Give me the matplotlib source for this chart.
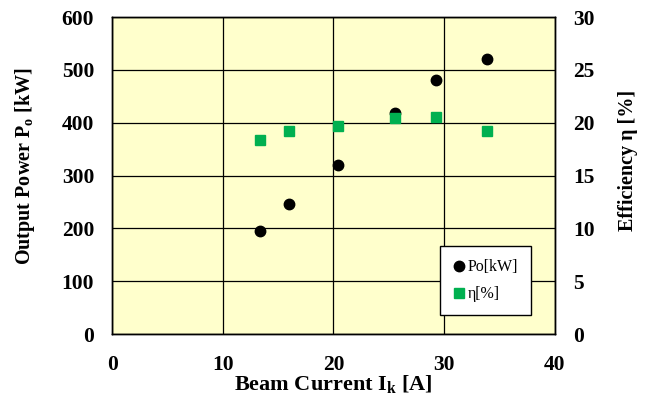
import matplotlib.pyplot as plt

plt.rcParams['font.family'] = 'Liberation Serif'
plt.rcParams['mathtext.fontset'] = 'custom'
plt.rcParams['mathtext.rm'] = 'Liberation Serif'
plt.rcParams['mathtext.bf'] = 'Liberation Serif:bold'

beam_current = [13.4, 16.0, 20.4, 25.6, 29.3, 33.9]
power_kw = [195, 246, 320, 418, 481, 521]
efficiency = [18.4, 19.2, 19.7, 20.4, 20.5, 19.2]


def main():
    fig = plt.figure(figsize=(6.45, 4.05), dpi=100)
    ax = fig.add_axes([0.174, 0.175, 0.686, 0.783])
    ax.set_facecolor('#FFFFCC')
    ax2 = ax.twinx()

    ax.plot(beam_current, power_kw, 'o', color='black', markersize=7.5,
            label='Po[kW]', zorder=3)
    ax2.plot(beam_current, efficiency, 's', color='#00B050', markersize=7.5,
             label='η[%]', zorder=3)

    ax.set_xlim(0, 40)
    ax.set_ylim(0, 600)
    ax2.set_ylim(0, 30)
    ax.set_xticks([0, 10, 20, 30, 40])
    ax.set_yticks(range(0, 601, 100))
    ax2.set_yticks(range(0, 31, 5))
    ax.grid(True, color='black', linewidth=0.9)
    ax.set_axisbelow(True)

    ax.tick_params(axis='x', length=0, labelsize=15.5, pad=15)
    ax.tick_params(axis='y', length=0, labelsize=15.5, pad=13)
    ax2.tick_params(axis='y', length=0, labelsize=15.5, pad=13)
    for a in (ax, ax2):
        for lab in a.get_xticklabels() + a.get_yticklabels():
            lab.set_fontweight('bold')
        for s in a.spines.values():
            s.set_linewidth(1.0)

    ax.set_xlabel(r'Beam Current I$_{\mathbf{k}}$ [A]', fontsize=16,
                  fontweight='bold', labelpad=-1)
    ax.set_ylabel(r'Output Power P$_{\mathbf{o}}$ [kW]', fontsize=14.5,
                  fontweight='bold')
    ax2.set_ylabel('Efficiency η [%]', fontsize=14.5, fontweight='bold')
    ax.yaxis.set_label_coords(-0.169, 0.53)
    ax2.yaxis.set_label_coords(1.144, 0.547)

    h1, l1 = ax.get_legend_handles_labels()
    h2, l2 = ax2.get_legend_handles_labels()
    leg = ax2.legend(h1 + h2, l1 + l2, loc='lower right',
                     bbox_to_anchor=(0.946, 0.06), fontsize=11.5,
                     fancybox=False, edgecolor='black', framealpha=1,
                     handlelength=0.7, handletextpad=0.2, labelspacing=0.7,
                     borderpad=0.8, borderaxespad=0)
    leg.get_frame().set_linewidth(1.0)

    fig.savefig('out.png', dpi=100)


if __name__ == '__main__':
    main()
